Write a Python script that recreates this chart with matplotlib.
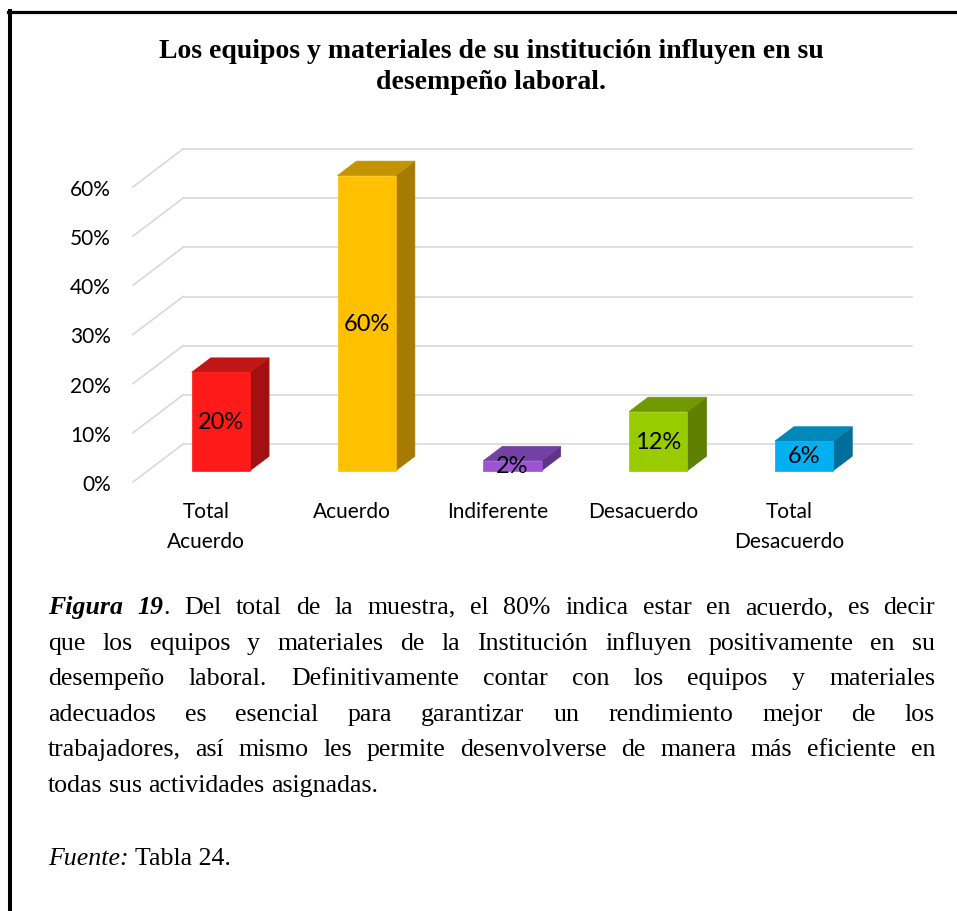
import matplotlib.pyplot as plt
from matplotlib.patches import Polygon
from matplotlib.lines import Line2D

# datos del grafico
categorias = ['Total\nAcuerdo', 'Acuerdo', 'Indiferente', 'Desacuerdo', 'Total\nDesacuerdo']
valores = [20, 60, 2, 12, 6]
etiquetas = ['20%', '60%', '2%', '12%', '6%']
ticks_y = [0, 10, 20, 30, 40, 50, 60]
ticks_txt = ['0%', '10%', '20%', '30%', '40%', '50%', '60%']
# colores (frente, arriba, lado)
colores = [('#FF1A1A', '#C21515', '#A21111'),
           ('#FFC000', '#C49300', '#A67C00'),
           ('#9B55D3', '#7340A3', '#603388'),
           ('#99CC00', '#709900', '#5E8000'),
           ('#00B0F0', '#0088BB', '#006E9A')]

titulo = 'Los equipos y materiales de su institución influyen en su\ndesempeño laboral.'
lineas = [
    'Figura 19. Del total de la muestra, el 80% indica estar en acuerdo, es decir',
    'que los equipos y materiales de la Institución influyen positivamente en su',
    'desempeño laboral. Definitivamente contar con los equipos y materiales',
    'adecuados es esencial para garantizar un rendimiento mejor de los',
    'trabajadores, así mismo les permite desenvolverse de manera más eficiente en',
    'todas sus actividades asignadas.',
]

W, H = 957, 912
fig = plt.figure(figsize=(W / 100, H / 100), dpi=100)
fig.patch.set_facecolor('white')


def px(x, y):
    return x / W, 1 - y / H


# marco (solo arriba e izquierda)
fig.add_artist(Line2D([8 / W, 1], [1 - 13 / H] * 2, color='black', lw=2.3,
                      transform=fig.transFigure))
fig.add_artist(Line2D([10 / W] * 2, [1 - 12 / H, 0], color='black', lw=2.9,
                      transform=fig.transFigure))

# titulo
fig.text(*px(491, 67), titulo, ha='center', va='center', fontsize=20,
         fontweight='bold', family='Liberation Serif', linespacing=1.3)

# ejes del grafico 3D (proyeccion oblicua)
DX, DY = 0.343, 7.7       # profundidad total
Z0, DZ = 0.3, 0.38        # posicion y grosor de la barra en profundidad
ANCHO = 0.4
ax = fig.add_axes([133 / W, (H - 483) / H, 779 / W, 333 / H])
ax.set_xlim(0, len(valores) + DX)
ax.set_ylim(0, 60 + DY)
for s in ax.spines.values():
    s.set_visible(False)
ax.patch.set_alpha(0)

for v in ticks_y:
    ax.plot([0, DX], [v, v + DY], color='#d9d9d9', lw=1.2, clip_on=False, zorder=1)
    ax.plot([DX, len(valores) + DX], [v + DY, v + DY], color='#d9d9d9', lw=1.2,
            clip_on=False, zorder=1)

for i, (v, c, t) in enumerate(zip(valores, colores, etiquetas)):
    x0 = i + 0.5 - ANCHO / 2 + Z0 * DX
    y0 = Z0 * DY
    ddx, ddy = DZ * DX, DZ * DY
    frente = [(x0, y0), (x0 + ANCHO, y0), (x0 + ANCHO, y0 + v), (x0, y0 + v)]
    arriba = [(x0, y0 + v), (x0 + ANCHO, y0 + v),
              (x0 + ANCHO + ddx, y0 + v + ddy), (x0 + ddx, y0 + v + ddy)]
    lado = [(x0 + ANCHO, y0), (x0 + ANCHO + ddx, y0 + ddy),
            (x0 + ANCHO + ddx, y0 + v + ddy), (x0 + ANCHO, y0 + v)]
    for pts, col in ((lado, c[2]), (arriba, c[1]), (frente, c[0])):
        ax.add_patch(Polygon(pts, closed=True, facecolor=col, edgecolor=col,
                             lw=0.5, clip_on=False, zorder=3))
    ax.text(x0 + ANCHO / 2, y0 + v / 2, t, ha='center', va='center',
            fontsize=17, family='Lato', zorder=5)

ax.set_yticks(ticks_y, ticks_txt)
ax.set_xticks([i + 0.5 for i in range(len(valores))], categorias)
ax.tick_params(axis='y', length=0, pad=16, labelsize=15)
ax.tick_params(axis='x', length=0, pad=14, labelsize=15)
for lab in ax.get_xticklabels() + ax.get_yticklabels():
    lab.set_family('Lato')
for lab in ax.get_xticklabels():
    lab.set_linespacing(1.6)

# texto de la figura, justificado
fig.canvas.draw()
rend = fig.canvas.get_renderer()
IZQ, DER = 48, 935
base = 614
paso = 35.6
tam = 18.6


def ancho(txt, **kw):
    t = fig.text(0, 0, txt, fontsize=tam, family='Liberation Serif', **kw)
    w = t.get_window_extent(rend).width
    t.remove()
    return w


for n, linea in enumerate(lineas):
    palabras = linea.split(' ')
    trozos = []
    for k, p in enumerate(palabras):
        if n == 0 and k == 0:
            trozos.append([(p, dict(style='italic', weight='bold'))])
        elif n == 0 and k == 1:
            trozos.append([('19', dict(style='italic', weight='bold')), ('.', {})])
        else:
            trozos.append([(p, {})])
    anchos = [sum(ancho(s, **kw) for s, kw in tr) for tr in trozos]
    if n < len(lineas) - 1:
        esp = (DER - IZQ - sum(anchos)) / (len(trozos) - 1)
    else:
        esp = ancho('a b') - ancho('ab')
    x = IZQ
    y = base + n * paso
    for tr, w in zip(trozos, anchos):
        xx = x
        for s, kw in tr:
            fig.text(*px(xx, y), s, fontsize=tam, family='Liberation Serif',
                     va='baseline', ha='left', **kw)
            xx += ancho(s, **kw)
        x += w + esp

yf = base + 5 * paso + 73
fig.text(*px(IZQ, yf), 'Fuente:', fontsize=tam, family='Liberation Serif',
         style='italic', va='baseline')
fig.text(*px(IZQ + ancho('Fuente:', style='italic') + ancho(' '), yf), 'Tabla 24.',
         fontsize=tam, family='Liberation Serif', va='baseline')

fig.savefig('out.png', dpi=100)
